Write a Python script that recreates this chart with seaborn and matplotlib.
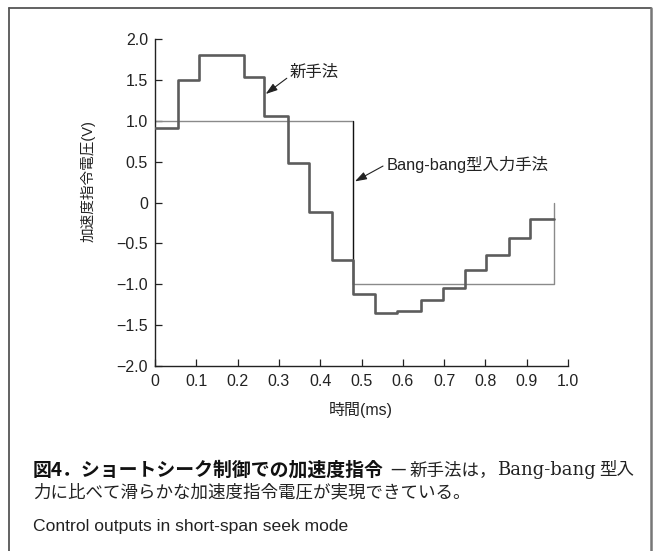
import matplotlib
matplotlib.use("Agg")
import matplotlib.pyplot as plt
from matplotlib.lines import Line2D
import seaborn as sns
import pandas as pd

# Step edges (ms) and held voltage levels for the new method
new_edges = [0, 0.055, 0.107, 0.161, 0.216, 0.264, 0.321, 0.374, 0.429, 0.480,
             0.533, 0.587, 0.643, 0.697, 0.751, 0.801, 0.857, 0.908, 0.965]
new_values = [0.91, 1.50, 1.81, 1.81, 1.535, 1.06, 0.49, -0.12, -0.70, -1.12,
              -1.35, -1.33, -1.19, -1.04, -0.83, -0.64, -0.43, -0.20]

# Bang-bang input: switching instants and levels
bang_edges = [0, 0.480, 0.965]
bang_values = [1.0, -1.0, 0.0]

x_ticks = [0, 0.1, 0.2, 0.3, 0.4, 0.5, 0.6, 0.7, 0.8, 0.9, 1.0]
x_ticklabels = ["0", "0.1", "0.2", "0.3", "0.4", "0.5", "0.6", "0.7", "0.8", "0.9", "1.0"]
y_ticks = [2.0, 1.5, 1.0, 0.5, 0, -0.5, -1.0, -1.5, -2.0]
y_ticklabels = ["2.0", "1.5", "1.0", "0.5", "0", "\u22120.5", "\u22121.0", "\u22121.5", "\u22122.0"]

sns.set_style("ticks")
plt.rcParams["font.family"] = ["Liberation Sans", "Noto Sans CJK JP", "DejaVu Sans"]
plt.rcParams["axes.unicode_minus"] = True

fig = plt.figure(figsize=(6.54, 5.51), dpi=100)
W, H = 654, 551
ax = fig.add_axes([155 / W, 1 - 366 / H, 413 / W, (366 - 39.3) / H])

new_df = pd.DataFrame({"t": new_edges, "v": new_values + [new_values[-1]]})
bang_df = pd.DataFrame({"t": bang_edges, "v": bang_values})

sns.lineplot(data=bang_df, x="t", y="v", ax=ax, estimator=None, sort=False,
             drawstyle="steps-post", color="#8a8a8a", linewidth=1.0, zorder=2)
# the switching edge of the bang-bang input is drawn darker
ax.plot([bang_edges[1], bang_edges[1]], [bang_values[0], bang_values[1]],
        color="#111111", linewidth=0.9, zorder=2)
sns.lineplot(data=new_df, x="t", y="v", ax=ax, estimator=None, sort=False,
             drawstyle="steps-post", color="#5c5c5c", linewidth=1.9, zorder=3)

ax.set_xlim(0, 1.0)
ax.set_ylim(-2.0, 2.0)
ax.set_xticks(x_ticks)
ax.set_xticklabels(x_ticklabels)
ax.set_yticks(y_ticks)
ax.set_yticklabels(y_ticklabels)
ax.tick_params(direction="in", length=5, width=0.9, labelsize=11.5,
               colors="#222222", labelcolor="#222222")
ax.tick_params(axis="x", pad=6)
ax.tick_params(axis="y", pad=5)
for side in ("top", "right"):
    ax.spines[side].set_visible(False)
for side in ("left", "bottom"):
    ax.spines[side].set_linewidth(1.0)
    ax.spines[side].set_color("#222222")

ax.set_xlabel("時間(ms)", fontsize=11.5, color="#222222")
ax.set_ylabel("加速度指令電圧(V)", fontsize=10.5, color="#222222")
# axis-title placement in pixel terms of the axes box
ax.xaxis.set_label_coords((361 - 155) / 413, (366 - 410) / (366 - 39.3))
ax.yaxis.set_label_coords((88 - 155) / 413, (366 - 181) / (366 - 39.3))
ax.xaxis.label.set_va("center")
ax.yaxis.label.set_va("center")

arrow = dict(arrowstyle="-|>,head_length=0.6,head_width=0.2", color="#222222",
             linewidth=0.8, shrinkA=0, shrinkB=0)
ax.annotate("新手法", xy=(0.268, 1.33), xytext=(0.327, 1.59),
            fontsize=11.8, va="center", ha="left", color="#222222",
            arrowprops=dict(arrow, relpos=(0, 0.3)))
ax.annotate("Bang-bang型入力手法", xy=(0.484, 0.26), xytext=(0.56, 0.47),
            fontsize=11.8, va="center", ha="left", color="#222222",
            arrowprops=dict(arrow, relpos=(0, 0.5)))

# outer frame (open at the bottom)
frame_kw = dict(color="#555555", linewidth=1.3, transform=None)
fig.add_artist(Line2D([9, 9], [0, H - 8], **frame_kw))
fig.add_artist(Line2D([9, 651], [H - 8, H - 8], **frame_kw))
fig.add_artist(Line2D([651, 651], [0, H - 8], color="#777777", linewidth=1.8,
                      transform=None))

# caption: first line is built from pieces laid out left to right
cap_y1 = 1 - 470 / H
jp = ["Noto Sans CJK JP"]
serif = ["DejaVu Serif", "Noto Sans CJK JP"]
pieces = [
    ("図4．ショートシーク制御での加速度指令", dict(fontsize=13.6, fontweight="bold",
                                     color="#111111", family=jp), 6),
    ("—", dict(fontsize=12.6, color="#222222", family=jp), 4),
    ("新手法は，", dict(fontsize=12.6, color="#222222", family=jp), 0),
    ("Bang-bang", dict(fontsize=13, color="#222222", family=serif), 3),
    ("型入", dict(fontsize=12.6, color="#222222", family=jp), 0),
]
renderer = fig.canvas.get_renderer()
x_px = 33
for txt, kw, gap in pieces:
    t = fig.text(x_px / W, cap_y1, txt, va="center", ha="left", **kw)
    bb = t.get_window_extent(renderer=renderer)
    x_px = bb.x1 + gap

fig.text(33 / W, 1 - 492 / H, "力に比べて滑らかな加速度指令電圧が実現できている。",
         fontsize=12.6, va="center", ha="left", color="#222222", family=jp)
fig.text(33 / W, 1 - 527 / H, "Control outputs in short-span seek mode",
         fontsize=12.6, va="center", ha="left", color="#222222",
         family=["Liberation Sans"])

fig.savefig("out.png", dpi=100, facecolor="white")
